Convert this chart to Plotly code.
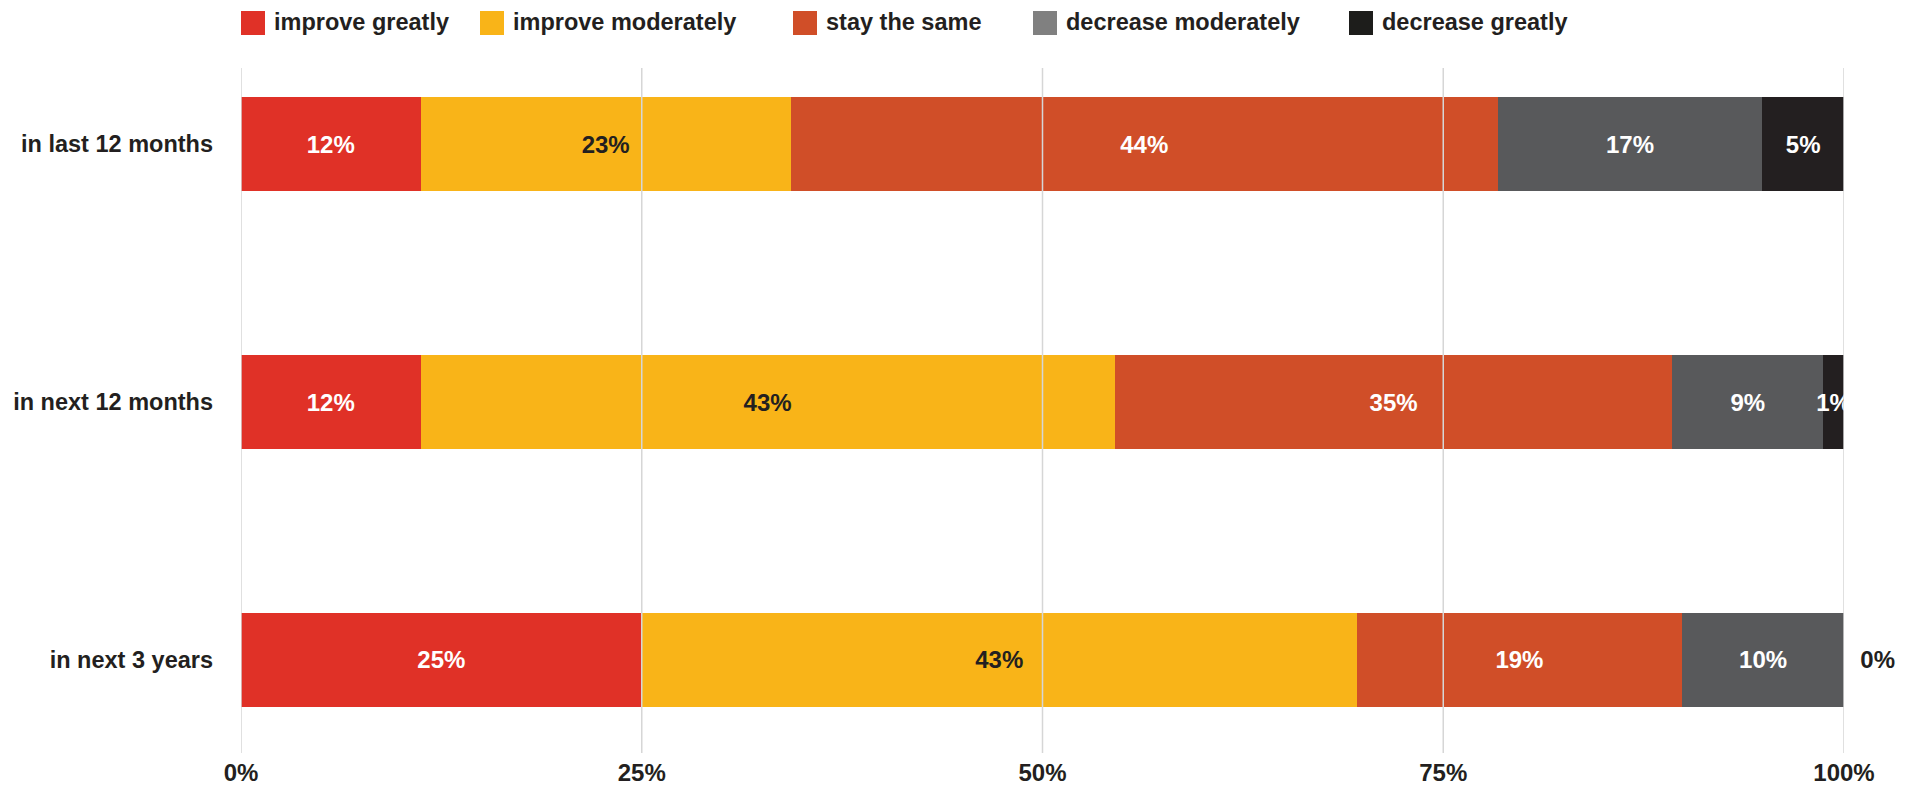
import plotly.graph_objects as go

# ---- data ----
categories = ["in last 12 months", "in next 12 months", "in next 3 years"]
series_names = ["improve greatly", "improve moderately", "stay the same",
                "decrease moderately", "decrease greatly"]
# bar lengths (share of row, %) as drawn
improve_greatly = [11.2, 11.2, 25.0]
improve_moderately = [23.1, 43.3, 44.6]
stay_the_same = [44.1, 34.8, 20.3]
decrease_moderately = [16.5, 9.4, 10.1]
decrease_greatly = [5.1, 1.3, 0.0]
# printed labels (%)
label_improve_greatly = [12, 12, 25]
label_improve_moderately = [23, 43, 43]
label_stay_the_same = [44, 35, 19]
label_decrease_moderately = [17, 9, 10]
label_decrease_greatly = [5, 1, 0]
x_tickvals = [0, 25, 50, 75, 100]
x_ticktext = ["0%", "25%", "50%", "75%", "100%"]

values = [improve_greatly, improve_moderately, stay_the_same,
          decrease_moderately, decrease_greatly]
labels = [label_improve_greatly, label_improve_moderately, label_stay_the_same,
          label_decrease_moderately, label_decrease_greatly]

bar_colors = ["#e03127", "#f9b418", "#d04e28", "#58595b", "#231f20"]
legend_colors = ["#e03127", "#f9b418", "#d04e28", "#808080", "#1d1d1b"]
text_colors = ["white", "#231f20", "white", "white", "white"]
DARK = "#231f20"
FONT = "Liberation Sans, Arial, Helvetica, sans-serif"

W, H = 1921, 786
ML, MR, MT, MB = 241, 77, 68, 33
PW, PH = W - ML - MR, H - MT - MB

fig = go.Figure()
for i, name in enumerate(series_names):
    vals = values[i]
    labs = labels[i]
    last = i == len(series_names) - 1
    if last:
        positions = ["inside" if v > 0 else "outside" for v in vals]
        texts = [f"{l}%" if v > 0 else f"\u00a0\u00a0{l}%" for v, l in zip(vals, labs)]
    else:
        positions = "inside"
        texts = [f"{l}%" for l in labs]
    fig.add_trace(go.Bar(
        name=name, y=categories, x=vals, orientation="h",
        marker=dict(color=bar_colors[i], line=dict(width=0)),
        text=texts, textposition=positions,
        insidetextanchor="middle", textangle=0, constraintext="none",
        insidetextfont=dict(family=FONT, size=24, color=text_colors[i], weight="bold"),
        outsidetextfont=dict(family=FONT, size=24, color=DARK, weight="bold"),
        cliponaxis=not last, showlegend=False, hoverinfo="skip",
    ))

# gridlines drawn above bars
for t in x_tickvals:
    fig.add_shape(type="line", xref="x", yref="paper", x0=t, x1=t, y0=0, y1=1,
                  line=dict(color="#d6d6d6", width=1.5), layer="above")

# manual legend
def px_x(p):
    return (p - ML) / PW

def px_y(p):
    return (MT + PH - p) / PH

legend_square_left = [241, 480, 793, 1033, 1349]
sq = 24
for i, name in enumerate(series_names):
    x0 = legend_square_left[i]
    fig.add_shape(type="rect", xref="paper", yref="paper",
                  x0=px_x(x0), x1=px_x(x0 + sq), y0=px_y(35), y1=px_y(11),
                  fillcolor=legend_colors[i], line=dict(width=0), layer="above")
    fig.add_annotation(xref="paper", yref="paper", x=px_x(x0 + sq + 7), y=px_y(22),
                       text=name, showarrow=False, xanchor="left", yanchor="middle",
                       font=dict(family=FONT, size=23.5, color=DARK, weight="bold"))

fig.update_layout(
    width=W, height=H,
    margin=dict(l=ML, r=MR, t=MT, b=MB, pad=0, autoexpand=False),
    barmode="stack", bargap=0.635,
    plot_bgcolor="white", paper_bgcolor="white",
    showlegend=False,
    font=dict(family=FONT, color=DARK),
    xaxis=dict(range=[0, 100], tickvals=x_tickvals, ticktext=x_ticktext,
               showgrid=False, zeroline=False, showline=False, ticks="",
               automargin=False, ticklabelstandoff=3,
               tickfont=dict(family=FONT, size=24, color=DARK, weight="bold")),
    yaxis=dict(type="category", range=[2.3607, -0.2948],
               showgrid=False, zeroline=False, showline=False, ticks="",
               automargin=False, ticklabelstandoff=27,
               tickfont=dict(family=FONT, size=23.5, color=DARK, weight="bold")),
)

fig.write_html("out.html")
